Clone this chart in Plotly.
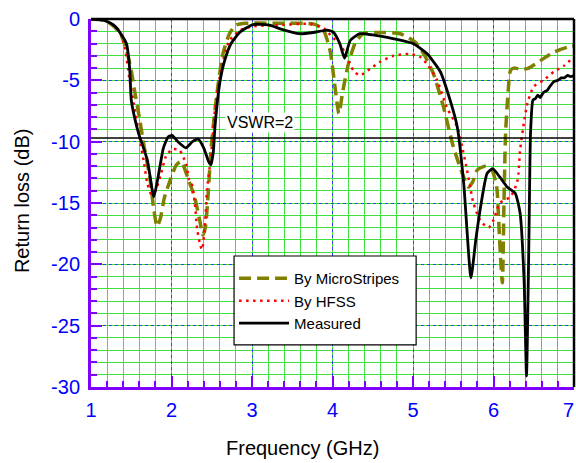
import plotly.graph_objects as go

# ---------------- data ----------------
f_meas = [1.0, 1.1, 1.2, 1.3, 1.37, 1.44, 1.48, 1.5, 1.54, 1.59, 1.7, 1.78, 1.83, 1.9, 1.96,
          2.01, 2.08, 2.18, 2.26, 2.33, 2.4, 2.46, 2.49, 2.52, 2.54, 2.6, 2.66, 2.74, 2.85,
          3.01, 3.22, 3.35, 3.59, 3.76, 3.93, 4.01, 4.09, 4.15, 4.22, 4.34, 4.5, 4.75, 5.0,
          5.17, 5.34, 5.46, 5.55, 5.63, 5.72, 5.78, 5.84, 5.92, 5.99, 6.08, 6.17, 6.27, 6.33,
          6.38, 6.41, 6.44, 6.46, 6.49, 6.52, 6.55, 6.58, 6.62, 6.67, 6.7, 6.75, 6.8, 6.84,
          6.88, 6.92, 6.96, 7.0]
rl_meas = [0, -0.05, -0.2, -0.6, -1.2, -2.0, -4.0, -6.6, -8.0, -9.3, -11.5, -14.5, -13.0, -10.5, -9.6,
           -9.5, -10.0, -10.5, -10.0, -9.8, -10.5, -11.6, -11.9, -10.8, -8.8, -5.2, -3.4, -2.0, -1.07,
           -0.45, -0.5, -0.8, -1.2, -1.1, -0.9, -1.07, -2.0, -3.2, -1.75, -1.2, -1.3, -1.6, -2.0,
           -2.8, -4.3, -6.6, -8.8, -13.4, -21.1, -18.0, -15.3, -12.6, -12.2, -12.9, -13.7, -14.2, -15.8,
           -21.3, -29.1, -18.0, -9.3, -6.6, -6.5, -6.2, -6.4, -6.0, -5.8, -5.5, -5.1, -5.0, -4.8,
           -4.8, -4.6, -4.7, -4.6]

f_ms = [1.0, 1.1, 1.2, 1.3, 1.38, 1.44, 1.5, 1.54, 1.6, 1.66, 1.73, 1.78, 1.82, 1.86, 1.91,
        1.97, 2.06, 2.12, 2.2, 2.29, 2.35, 2.39, 2.42, 2.45, 2.49, 2.54, 2.58, 2.64, 2.72,
        2.8, 2.93, 3.35, 3.76, 3.88, 3.97, 4.03, 4.08, 4.13, 4.2, 4.28, 4.38, 4.59, 4.84,
        5.03, 5.13, 5.25, 5.38, 5.5, 5.63, 5.69, 5.74, 5.8, 5.9, 5.98, 6.04, 6.06, 6.08,
        6.11, 6.13, 6.15, 6.18, 6.21, 6.25, 6.31, 6.42, 6.58, 6.75, 6.92, 7.0]
rl_ms = [0, -0.05, -0.2, -0.7, -1.4, -2.5, -4.2, -5.8, -8.0, -10.4, -12.9, -15.5, -16.9, -16.3, -14.6,
         -13.4, -11.9, -11.6, -12.9, -14.6, -16.4, -17.6, -17.0, -14.8, -10.7, -7.4, -5.3, -2.8, -1.2,
         -0.5, -0.35, -0.35, -0.4, -0.8, -2.6, -5.5, -7.7, -5.8, -3.6, -2.0, -1.2, -1.1, -1.2,
         -1.9, -2.8, -4.4, -7.2, -10.4, -12.9, -13.7, -13.3, -12.3, -12.0, -12.3, -13.7, -15.8, -18.5,
         -21.5, -15.0, -9.3, -6.1, -4.2, -4.0, -4.05, -4.05, -3.4, -2.7, -2.3, -2.2]

f_hfss = [1.0, 1.1, 1.2, 1.3, 1.35, 1.42, 1.48, 1.54, 1.6, 1.66, 1.7, 1.75, 1.8, 1.87, 1.93,
          2.01, 2.1, 2.18, 2.22, 2.25, 2.29, 2.32, 2.36, 2.38, 2.42, 2.44, 2.49, 2.54, 2.58,
          2.64, 2.72, 2.85, 3.01, 3.35, 3.72, 3.9, 4.0, 4.09, 4.18, 4.26, 4.34, 4.47, 4.59,
          4.76, 4.96, 5.09, 5.19, 5.3, 5.42, 5.55, 5.61, 5.67, 5.71, 5.75, 5.84, 5.94, 6.0,
          6.08, 6.21, 6.29, 6.31, 6.33, 6.37, 6.42, 6.5, 6.62, 6.75, 6.88, 6.98]
rl_hfss = [0, -0.05, -0.2, -0.6, -0.95, -2.3, -5.0, -7.2, -9.6, -11.8, -13.4, -14.3, -14.0, -12.6, -11.2,
           -10.6, -10.7, -11.8, -13.1, -13.4, -15.0, -17.2, -18.5, -18.8, -16.4, -14.0, -11.2, -7.4, -5.5,
           -3.4, -1.75, -0.93, -0.6, -0.5, -0.4, -0.8, -1.5, -2.0, -3.1, -4.2, -4.6, -4.05, -3.5,
           -3.0, -2.85, -3.1, -3.8, -5.0, -7.2, -8.8, -10.4, -12.3, -13.7, -15.0, -16.5, -17.0, -16.4,
           -15.0, -14.5, -13.4, -12.6, -10.7, -8.8, -6.9, -5.5, -5.0, -4.3, -3.8, -3.2]

vswr2_level = -9.7
x_ticks = [1, 2, 3, 4, 5, 6, 7]
y_ticks = [0, -5, -10, -15, -20, -25, -30]

# ---------------- styles ----------------
PURPLE = "#7f00ff"
BLUE = "#0000ff"
GREEN = "#3fe03f"
FONT = "Liberation Sans, Arial, sans-serif"

W, H = 576, 463
L, T = 91, 18.5
PW, PH = 482.8, 368.8
R, B = W - L - PW, H - T - PH


def px_x(p):
    return (p - L) / PW


def px_y(p):
    return (T + PH - p) / PH


fig = go.Figure()
fig.add_trace(go.Scatter(x=f_ms, y=rl_ms, mode="lines", name="By MicroStripes",
                         line=dict(color="#808000", width=3.5, dash="12px,6px", shape="spline", smoothing=0.6)))
fig.add_trace(go.Scatter(x=f_hfss, y=rl_hfss, mode="lines", name="By HFSS",
                         line=dict(color="#ff0000", width=2.5, dash="2.5px,4.5px", shape="spline", smoothing=0.6)))
fig.add_trace(go.Scatter(x=f_meas, y=rl_meas, mode="lines", name="Measured",
                         line=dict(color="#000000", width=2.8, shape="spline", smoothing=0.5)))

axis_common = dict(
    showline=True, linecolor=PURPLE, linewidth=3,
    ticks="inside", tickcolor=PURPLE, tickwidth=2, ticklen=11,
    showgrid=True, gridcolor="#3a3aff", gridwidth=1.2, griddash="dot",
    zeroline=False, automargin=False, ticklabeloverflow="allow",
    tickfont=dict(family=FONT, size=20, color=BLUE),
)

# last x label is placed as an annotation flush with the right edge so it is not clipped
x_ticktext = [str(v) for v in x_ticks[:-1]] + [""]

fig.update_xaxes(range=[1, 7], tickvals=x_ticks, ticktext=x_ticktext,
                 minor=dict(dtick=0.2, ticks="inside", ticklen=6, tickwidth=2, tickcolor=PURPLE,
                            showgrid=True, gridcolor=GREEN, gridwidth=1.2, griddash="solid"),
                 ticklabelstandoff=3,
                 **axis_common)
fig.update_yaxes(range=[-30, 0], tickvals=y_ticks, ticktext=[str(v) for v in y_ticks],
                 minor=dict(dtick=1, ticks="inside", ticklen=6, tickwidth=2, tickcolor=PURPLE,
                            showgrid=True, gridcolor=GREEN, gridwidth=1.2, griddash="solid"),
                 ticklabelstandoff=4,
                 **axis_common)

fig.add_shape(type="line", xref="x", yref="y", x0=1, x1=7, y0=vswr2_level, y1=vswr2_level,
              line=dict(color="black", width=1.5))
fig.add_shape(type="line", xref="paper", yref="paper", x0=0, x1=1, y0=1, y1=1,
              line=dict(color="black", width=2.5))
fig.add_shape(type="line", xref="paper", yref="paper", x0=1, x1=1, y0=0, y1=1,
              line=dict(color="black", width=2.5))
# legend frame
fig.add_shape(type="rect", xref="paper", yref="paper", layer="above",
              x0=px_x(234), x1=px_x(416), y0=px_y(345), y1=px_y(256),
              line=dict(color="black", width=1.2), fillcolor="white")

fig.add_annotation(x=px_x(575.5), y=px_y(410), xref="paper", yref="paper",
                   xanchor="right", yanchor="middle", text=str(x_ticks[-1]), showarrow=False,
                   font=dict(family=FONT, size=20, color=BLUE))
fig.add_annotation(x=3.1, y=-8.4, xref="x", yref="y", text="VSWR=2", showarrow=False,
                   font=dict(family=FONT, size=16, color="black"), bgcolor="white")
fig.add_annotation(x=px_x(302), y=px_y(448), xref="paper", yref="paper",
                   xanchor="center", yanchor="middle",
                   text="Frequency (GHz)", showarrow=False,
                   font=dict(family=FONT, size=20, color="black"))
fig.add_annotation(x=px_x(22), y=px_y(200), xref="paper", yref="paper",
                   xanchor="center", yanchor="middle",
                   text="Return loss (dB)", textangle=-90, showarrow=False,
                   font=dict(family=FONT, size=20, color="black"))

fig.update_layout(
    width=W, height=H,
    margin=dict(l=L, r=R, t=T, b=B),
    paper_bgcolor="white", plot_bgcolor="white",
    font=dict(family=FONT, color="black"),
    legend=dict(x=px_x(234), y=px_y(262), xanchor="left", yanchor="top",
                bgcolor="rgba(0,0,0,0)", borderwidth=0, itemwidth=50,
                font=dict(family=FONT, size=15, color="black")),
)

fig.write_html("out.html", config={"displayModeBar": False},
               post_script="document.body.style.margin='0';")
